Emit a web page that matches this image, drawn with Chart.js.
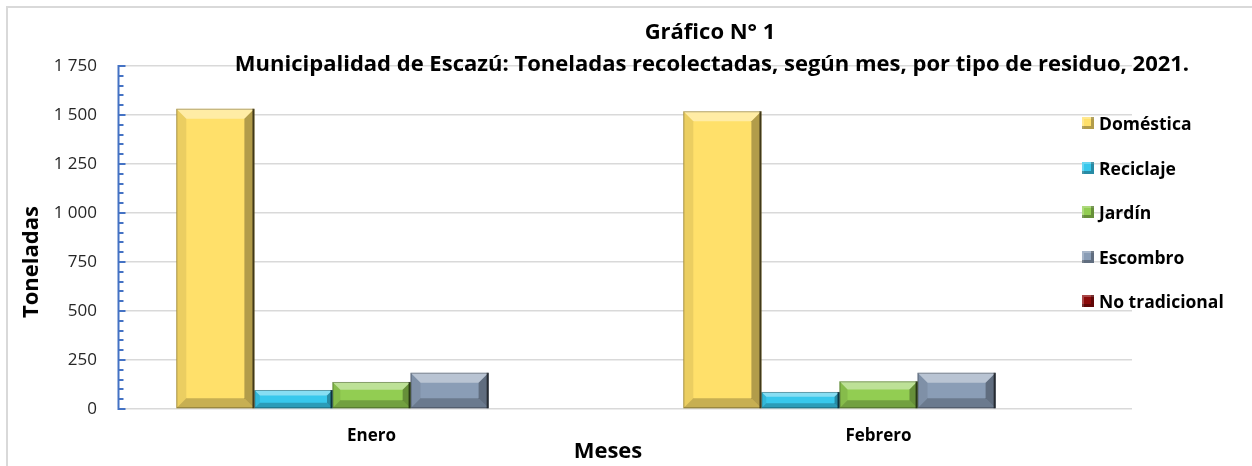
<!DOCTYPE html>
<html>
<head>
<meta charset="utf-8">
<script src="https://cdn.jsdelivr.net/npm/chart.js@4.4.1/dist/chart.umd.min.js"></script>
<style>
  html, body { margin: 0; padding: 0; background: #fff; overflow: hidden; }
  #wrap { position: relative; width: 1252px; height: 466px; font-family: 'Open Sans', sans-serif; color: #000; }
  #frameTop { position: absolute; left: 6px; top: 6px; width: 1246px; height: 0; border-top: 2px solid #d9d9d9; }
  #frameLeft { position: absolute; left: 6px; top: 6px; width: 0; height: 460px; border-left: 2px solid #d9d9d9; }
  canvas { position: absolute; left: 0; top: 0; }
  .txt { position: absolute; white-space: nowrap; font-weight: 700; transform: translate(-50%, -50%); }
  #legend { position: absolute; left: 1082px; top: 0; }
  .leg-item { position: absolute; left: 0; display: flex; align-items: center; white-space: nowrap; font-weight: 700; font-size: 17.5px; transform: translateY(-50%); }
  .leg-box { width: 12px; height: 12px; margin-right: 5px; }
</style>
</head>
<body>
<div id="wrap">
  <div id="frameTop"></div>
  <div id="frameLeft"></div>
  <canvas id="myChart" width="1252" height="466"></canvas>
  <div class="txt" style="left:710px; top:30px; font-size:22px;">Gráfico N° 1</div>
  <div class="txt" style="left:712px; top:62px; font-size:22px;">Municipalidad de Escazú: Toneladas recolectadas, según mes, por tipo de residuo, 2021.</div>
  <div class="txt" style="left:29px; top:262px; font-size:22px; transform: translate(-50%, -50%) rotate(-90deg);">Toneladas</div>
  <div class="txt" style="left:608px; top:449px; font-size:22px;">Meses</div>
  <div id="legend"></div>
</div>
<script>
const months = ['Enero', 'Febrero'];
const seriesNames = ['Doméstica', 'Reciclaje', 'Jardín', 'Escombro', 'No tradicional'];
const domestica = [1532, 1519];
const reciclaje = [97, 87];
const jardin = [138, 141];
const escombro = [185, 185];
const noTradicional = [0, 0];
const yTicks = [0, 250, 500, 750, 1000, 1250, 1500, 1750];

const seriesValues = [domestica, reciclaje, jardin, escombro, noTradicional];
const seriesColors = ['#FFE06A', '#38C8EC', '#92CD52', '#8A9DB6', '#8B0A0A'];

const fmt = (v) => String(v).replace(/\B(?=(\d{3})+(?!\d))/g, ' ');

// bevel look of the excel bars
const bevelPlugin = {
  id: 'bevel',
  afterDatasetsDraw(chart) {
    const ctx = chart.ctx;
    chart.data.datasets.forEach((ds, i) => {
      chart.getDatasetMeta(i).data.forEach((bar) => {
        const l = bar.x - bar.width / 2, r = bar.x + bar.width / 2;
        const t = Math.min(bar.y, bar.base), bt = Math.max(bar.y, bar.base);
        const h = bt - t;
        if (h < 1) return;
        const b = Math.min(10, h * 0.3);
        const poly = (pts, fill) => {
          ctx.beginPath();
          ctx.moveTo(pts[0][0], pts[0][1]);
          pts.slice(1).forEach(p => ctx.lineTo(p[0], p[1]));
          ctx.closePath();
          ctx.fillStyle = fill;
          ctx.fill();
        };
        ctx.save();
        poly([[l, t], [r, t], [r - b, t + b], [l + b, t + b]], 'rgba(255,255,255,0.40)');
        poly([[l, t], [l + b, t + b], [l + b, bt - b], [l, bt]], 'rgba(0,0,0,0.08)');
        poly([[r, t], [r, bt], [r - b, bt - b], [r - b, t + b]], 'rgba(0,0,0,0.30)');
        poly([[l, bt], [r, bt], [r - b, bt - b], [l + b, bt - b]], 'rgba(0,0,0,0.22)');
        ctx.strokeStyle = 'rgba(0,0,0,0.55)';
        ctx.lineWidth = 2;
        ctx.beginPath();
        ctx.moveTo(r - 1, t);
        ctx.lineTo(r - 1, bt);
        ctx.stroke();
        ctx.strokeStyle = 'rgba(0,0,0,0.3)';
        ctx.lineWidth = 1;
        ctx.strokeRect(l + 0.5, t + 0.5, r - l - 1, h - 1);
        ctx.restore();
      });
    });
  }
};

// blue y axis with inner major and minor ticks
const axisPlugin = {
  id: 'blueAxis',
  afterDraw(chart) {
    const ctx = chart.ctx;
    const y = chart.scales.y;
    const x0 = Math.round(chart.chartArea.left) + 0.5;
    ctx.save();
    ctx.strokeStyle = '#4472C4';
    ctx.lineWidth = 2;
    ctx.beginPath();
    ctx.moveTo(x0, y.getPixelForValue(1750) - 1);
    ctx.lineTo(x0, y.getPixelForValue(0) + 1);
    ctx.stroke();
    for (let v = 0; v <= 1750; v += 50) {
      const py = Math.round(y.getPixelForValue(v));
      const len = v % 250 === 0 ? 7 : 5;
      ctx.beginPath();
      ctx.moveTo(x0, py);
      ctx.lineTo(x0 + len, py);
      ctx.stroke();
    }
    ctx.restore();
  }
};

const ctx = document.getElementById('myChart').getContext('2d');
new Chart(ctx, {
  type: 'bar',
  data: {
    labels: months,
    datasets: seriesNames.map((name, i) => ({
      label: name,
      data: seriesValues[i],
      backgroundColor: seriesColors[i],
      borderWidth: 0,
      barPercentage: 1,
      categoryPercentage: 0.77,
    })),
  },
  options: {
    responsive: false,
    animation: false,
    layout: { padding: { top: 66, right: 120, bottom: 0, left: 0 } },
    plugins: {
      legend: { display: false },
      title: { display: false },
      tooltip: { enabled: false },
    },
    scales: {
      x: {
        grid: { display: false, drawTicks: false },
        border: { display: false },
        ticks: {
          padding: 17,
          color: '#000',
          font: { family: 'Open Sans', size: 17, weight: 'bold' },
        },
        afterFit(scale) { scale.height = 57; },
      },
      y: {
        min: 0,
        max: 1750,
        afterBuildTicks(scale) { scale.ticks = yTicks.map(v => ({ value: v })); },
        grid: { color: '#d9d9d9', lineWidth: 1.5, drawTicks: false },
        border: { display: false },
        ticks: {
          padding: 21,
          color: '#262626',
          font: { family: 'Open Sans', size: 17 },
          callback: (v) => fmt(v),
        },
        afterFit(scale) { scale.width = 118; },
      },
    },
  },
  plugins: [bevelPlugin, axisPlugin],
});

// legend at right, over the plot like in excel
const legendEl = document.getElementById('legend');
const legendRows = [123, 168, 212, 257, 301];
seriesNames.forEach((name, i) => {
  const item = document.createElement('div');
  item.className = 'leg-item';
  item.style.top = legendRows[i] + 'px';
  const c = seriesColors[i];
  item.innerHTML = `<span class="leg-box" style="background: conic-gradient(from -45deg, ${c} 0 90deg, rgba(0,0,0,0) 0), ${c};
    box-shadow: inset -3px -3px 0 rgba(0,0,0,0.3), inset 2px 2px 0 rgba(255,255,255,0.25);"></span>${name}`;
  legendEl.appendChild(item);
});
</script>
</body>
</html>
